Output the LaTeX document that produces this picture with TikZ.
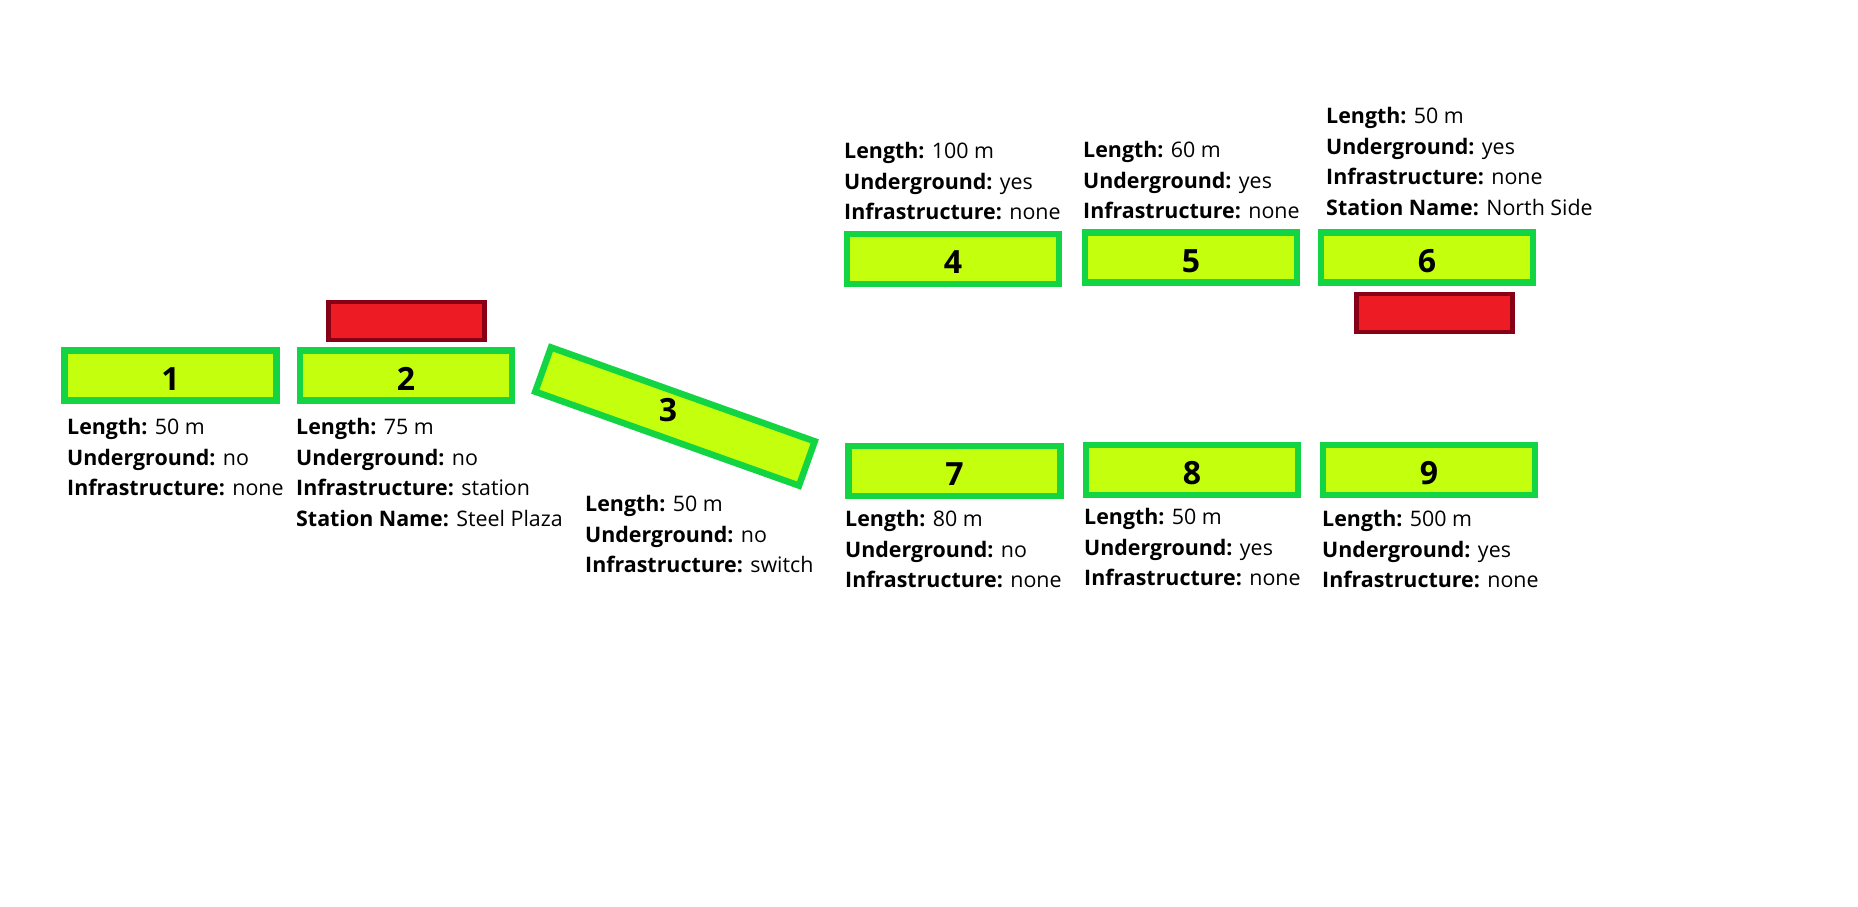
\documentclass[tikz,border=0pt]{standalone}
\usepackage{fontspec}
\setmainfont{Open Sans}
\definecolor{segfill}{HTML}{C4FF0E}
\definecolor{segline}{HTML}{13D443}
\definecolor{stnfill}{HTML}{ED1C24}
\definecolor{stnline}{HTML}{880015}

\begin{document}
\begin{tikzpicture}[x=1pt,y=-1pt,
  num/.style={font=\fontsize{32}{32}\selectfont\bfseries, text height=29pt, text depth=0pt},
  seg/.style={num, draw=segline, fill=segfill, line width=6.5pt, minimum width=212pt,
    minimum height=50pt, inner sep=0pt},
  stn/.style={draw=stnline, fill=stnfill, line width=4.5pt, minimum width=156pt,
    minimum height=38pt, inner sep=0pt},
  info/.style={anchor=north west, align=left, inner sep=0pt,
    font=\fontsize{21.4}{30.7}\selectfont}]
\path (0,0) rectangle (1858,906);
% stations
\node[stn] (st2) at (406.5,321) {};
\node[stn] (st6) at (1434.5,313) {};
% track segments
\node[seg] (s1) at (170.5,375.5) {1};
\node[seg] (s2) at (406,375.5) {2};
\node[seg, minimum width=280pt, minimum height=47pt, rotate=-19.6] (s3) at (675,416.5) {};
\node[num] (n3) at (668,407) {3};
\node[seg] (s4) at (953,259) {4};
\node[seg] (s5) at (1191,257.5) {5};
\node[seg] (s6) at (1427,257.5) {6};
\node[seg] (s7) at (954.5,471) {7};
\node[seg] (s8) at (1192,470) {8};
\node[seg] (s9) at (1429,470) {9};
% segment data
\node[info] (i1) at (67,418) {\textbf{Length:} 50 m\\\textbf{Underground:} no\\\textbf{Infrastructure:} none};
\node[info] (i2) at (296,418) {\textbf{Length:} 75 m\\\textbf{Underground:} no\\\textbf{Infrastructure:} station\\\textbf{Station Name:} Steel Plaza};
\node[info] (i3) at (585,495) {\textbf{Length:} 50 m\\\textbf{Underground:} no\\\textbf{Infrastructure:} switch};
\node[info] (i4) at (844,142) {\textbf{Length:} 100 m\\\textbf{Underground:} yes\\\textbf{Infrastructure:} none};
\node[info] (i5) at (1083,141) {\textbf{Length:} 60 m\\\textbf{Underground:} yes\\\textbf{Infrastructure:} none};
\node[info] (i6) at (1326,107) {\textbf{Length:} 50 m\\\textbf{Underground:} yes\\\textbf{Infrastructure:} none\\\textbf{Station Name:} North Side};
\node[info] (i7) at (845,510) {\textbf{Length:} 80 m\\\textbf{Underground:} no\\\textbf{Infrastructure:} none};
\node[info] (i8) at (1084,508) {\textbf{Length:} 50 m\\\textbf{Underground:} yes\\\textbf{Infrastructure:} none};
\node[info] (i9) at (1322,510) {\textbf{Length:} 500 m\\\textbf{Underground:} yes\\\textbf{Infrastructure:} none};
\end{tikzpicture}
\end{document}
